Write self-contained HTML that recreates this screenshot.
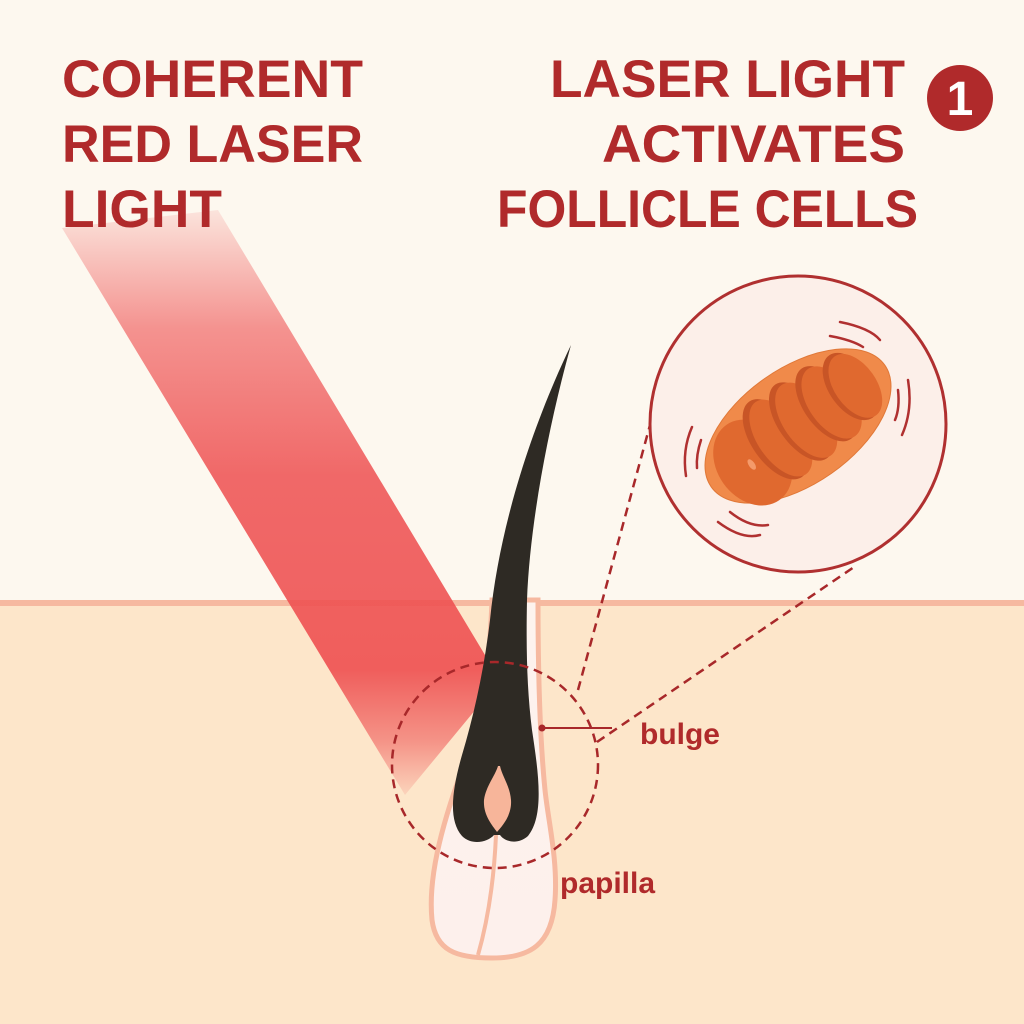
<!DOCTYPE html>
<html><head><meta charset="utf-8"><style>
html,body{margin:0;padding:0;background:#fdf8ef;}
svg{display:block}
text{font-family:"Liberation Sans",sans-serif;font-weight:bold;fill:#b02a2b}
</style></head><body>
<svg width="1024" height="1024" viewBox="0 0 1024 1024" xmlns="http://www.w3.org/2000/svg">
<defs>
<linearGradient id="beam" gradientUnits="userSpaceOnUse" x1="0" y1="210" x2="0" y2="800">
<stop offset="0" stop-color="#ee4f50" stop-opacity="0.12"/>
<stop offset="0.2" stop-color="#ee4f50" stop-opacity="0.6"/>
<stop offset="0.45" stop-color="#ee4f50" stop-opacity="0.85"/>
<stop offset="0.78" stop-color="#ee4f50" stop-opacity="0.9"/>
<stop offset="0.9" stop-color="#ee4f50" stop-opacity="0.55"/>
<stop offset="1" stop-color="#ee4f50" stop-opacity="0.08"/>
</linearGradient>
<linearGradient id="sheath" x1="0" y1="0" x2="0" y2="1">
<stop offset="0" stop-color="#fdf3ee"/>
<stop offset="1" stop-color="#fdf0ec"/>
</linearGradient>
</defs>
<rect width="1024" height="1024" fill="#fdf8ef"/>
<rect x="0" y="600" width="1024" height="424" fill="#fde6ca"/>
<line x1="0" y1="603" x2="492" y2="603" stroke="#f6b9a0" stroke-width="6"/>
<line x1="538" y1="603" x2="1024" y2="603" stroke="#f6b9a0" stroke-width="6"/>
<path d="M492 600 C490 660 482 720 462 770 C440 830 428 880 432 920 C436 950 455 958 492 958 C530 958 552 945 555 900 C558 860 548 820 545 790 C540 740 538 680 538 600 Z" fill="url(#sheath)" stroke="#f6b9a0" stroke-width="5"/>
<path d="M496 835 C494 880 488 920 478 955" fill="none" stroke="#f6b9a0" stroke-width="4"/>
<polygon points="62,228 218,210 500,680 405,795" fill="url(#beam)"/>
<path d="M571 345 C550 420 530 520 527 600 C526 650 527 690 532 730 C538 770 545 815 528 836 C518 845 505 842 500 835 L494 835 C488 842 472 846 462 836 C448 820 452 790 462 755 C474 715 484 670 490 620 C500 520 535 420 571 345 Z" fill="#2e2a24"/>
<path d="M498 766 C495 776 486 786 484 800 C483 815 492 825 497 832 C503 825 512 815 511 800 C510 786 502 776 500 766 Z" fill="#f7b59a"/>
<circle cx="495" cy="765" r="103" fill="none" stroke="#a8282a" stroke-width="2.5" stroke-dasharray="9 6"/>
<line x1="578" y1="690" x2="650" y2="425" stroke="#a8282a" stroke-width="2.5" stroke-dasharray="9 6"/>
<line x1="597" y1="742" x2="857" y2="565" stroke="#a8282a" stroke-width="2.5" stroke-dasharray="9 6"/>
<line x1="542" y1="728" x2="612" y2="728" stroke="#a8282a" stroke-width="2"/>
<circle cx="542" cy="728" r="3.5" fill="#a8282a"/>
<text x="640" y="744" font-size="30">bulge</text>
<text x="560" y="893" font-size="30">papilla</text>
<circle cx="798" cy="424" r="148" fill="#fcefe9" stroke="#b03030" stroke-width="3"/>
<g transform="translate(798,426) rotate(-35)">
<ellipse cx="0" cy="0" rx="106" ry="58" fill="#f08a4a" stroke="#e07838" stroke-width="1"/>
<ellipse cx="-58" cy="4" rx="36" ry="46" fill="#e0692f"/>
<ellipse cx="-26" cy="-2" rx="24" ry="46" fill="#c85526"/>
<ellipse cx="-21" cy="0" rx="23" ry="44" fill="#e0692f"/>
<ellipse cx="5" cy="-2" rx="23" ry="45" fill="#c85526"/>
<ellipse cx="10" cy="0" rx="23" ry="43" fill="#e0692f"/>
<ellipse cx="36" cy="-2" rx="23" ry="43" fill="#c85526"/>
<ellipse cx="41" cy="0" rx="23" ry="41" fill="#e0692f"/>
<ellipse cx="66" cy="-2" rx="22" ry="38" fill="#c85526"/>
<ellipse cx="70" cy="0" rx="21" ry="36" fill="#e0692f"/>
<ellipse cx="-60" cy="5" rx="3" ry="6" fill="#f49a6a"/>
</g>
<g fill="none" stroke="#b03030" stroke-width="2.5" stroke-linecap="round">
<path d="M840 322 Q870 328 880 340"/><path d="M830 336 Q852 340 863 347"/>
<path d="M908 380 Q913 410 902 435"/><path d="M898 390 Q900 408 895 420"/>
<path d="M692 427 Q682 450 686 476"/><path d="M701 440 Q696 455 697 468"/>
<path d="M730 512 Q750 528 768 525"/><path d="M718 522 Q742 540 760 535"/>
</g>
<text x="62" y="97" font-size="53" textLength="301" lengthAdjust="spacingAndGlyphs">COHERENT</text>
<text x="62" y="162" font-size="53" textLength="301" lengthAdjust="spacingAndGlyphs">RED LASER</text>
<text x="62" y="227" font-size="53" textLength="160" lengthAdjust="spacingAndGlyphs">LIGHT</text>
<text x="550" y="97" font-size="53" textLength="355" lengthAdjust="spacingAndGlyphs">LASER LIGHT</text>
<text x="602" y="162" font-size="53" textLength="303" lengthAdjust="spacingAndGlyphs">ACTIVATES</text>
<text x="497" y="227" font-size="53" textLength="421" lengthAdjust="spacingAndGlyphs">FOLLICLE CELLS</text>
<circle cx="960" cy="98" r="33" fill="#b02a2b"/>
<text x="960" y="115" font-size="48" text-anchor="middle" style="fill:#fff">1</text>
</svg>
</body></html>
